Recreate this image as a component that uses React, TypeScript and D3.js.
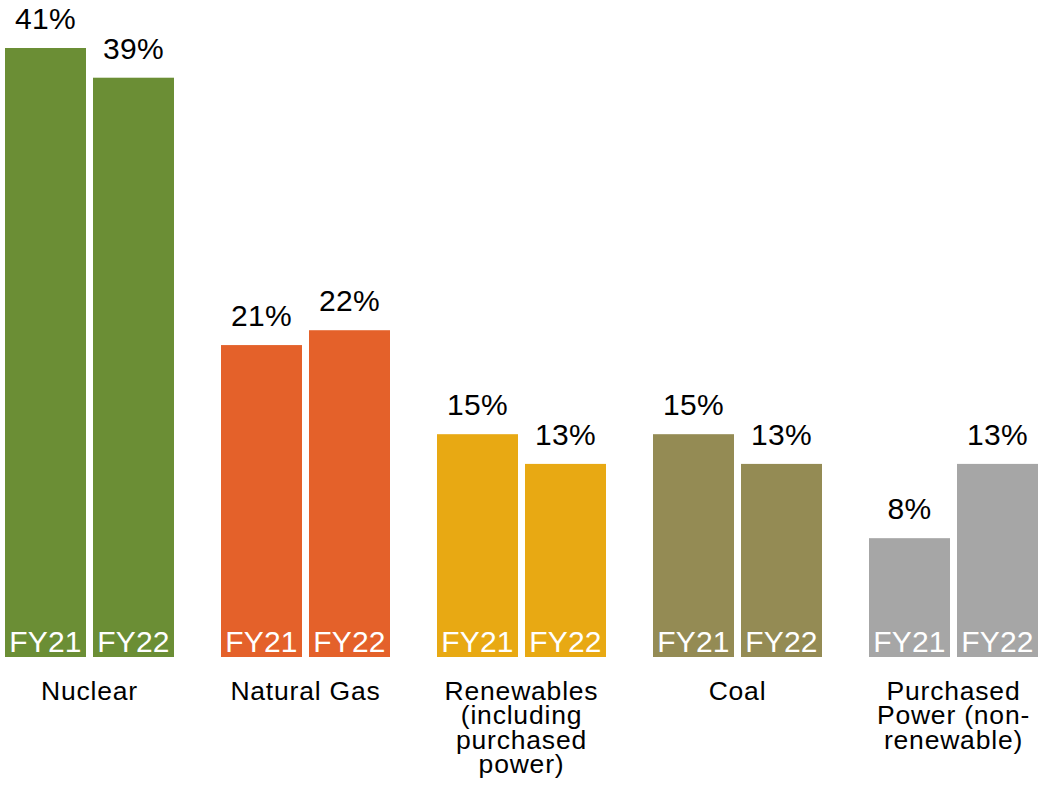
import React from "react";
import * as d3 from "d3";

const categories = ["Nuclear", "Natural Gas", "Renewables", "Coal", "Purchased"];
const categoryLabelLines = [
  ["Nuclear"],
  ["Natural Gas"],
  ["Renewables", "(including", "purchased", "power)"],
  ["Coal"],
  ["Purchased", "Power (non-", "renewable)"],
];
const years = ["FY21", "FY22"];
const fy21Values = [41, 21, 15, 15, 8];
const fy22Values = [39, 22, 13, 13, 13];
const colors = ["#6B8E35", "#E4612A", "#E8A913", "#948B54", "#A6A6A6"];

const W = 1038;
const H = 808;

export default function App() {
  const x0 = d3.scaleBand<string>().domain(categories).range([5, 1038]).paddingInner(47 / 216).paddingOuter(0);
  const x1 = d3.scaleBand<string>().domain(years).range([0, x0.bandwidth()]).paddingInner(7 / 88).paddingOuter(0);
  const y = d3.scaleLinear().domain([0, 41]).range([657, 48]);
  const font = "Arial, 'Liberation Sans', sans-serif";

  return (
    <svg width={W} height={H} style={{ position: "absolute", left: 0, top: 0, background: "#fff" }} fontFamily={font}>
      {categories.map((c, i) => {
        const vals = [fy21Values[i], fy22Values[i]];
        return (
          <g key={c} transform={`translate(${x0(c)},0)`}>
            {years.map((yr, j) => {
              const bx = x1(yr)!;
              const bw = x1.bandwidth();
              const v = vals[j];
              return (
                <g key={yr}>
                  <rect x={bx} y={y(v)} width={bw} height={y(0) - y(v)} fill={colors[i]} />
                  <text x={bx + bw / 2} y={y(v) - 19} textAnchor="middle" fontSize={30} fill="#000" letterSpacing={0.4}>
                    {v}%
                  </text>
                  <text x={bx + bw / 2} y={y(0) - 5} textAnchor="middle" fontSize={30} fill="#fff" letterSpacing={0.2}>
                    {yr}
                  </text>
                </g>
              );
            })}
            {categoryLabelLines[i].map((line, k) => (
              <text key={k} x={x0.bandwidth() / 2} y={700 + k * 24.3} textAnchor="middle" fontSize={26.5} fill="#000" letterSpacing={0.8}>
                {line}
              </text>
            ))}
          </g>
        );
      })}
    </svg>
  );
}
